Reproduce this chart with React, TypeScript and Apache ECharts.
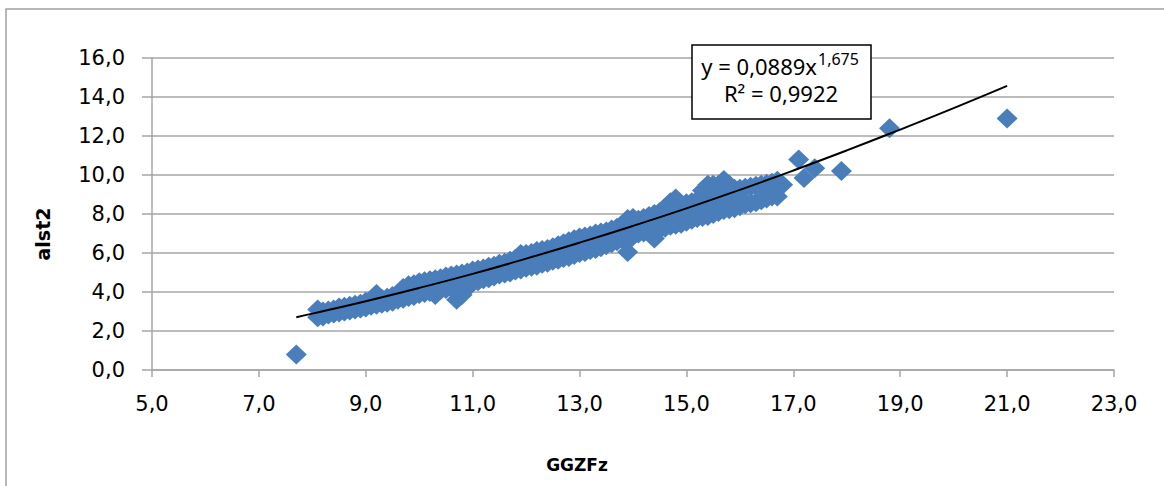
import React, { useEffect, useRef } from "react";
import * as echarts from "echarts";

const bandX = [
  8.2, 8.3, 8.4, 8.5, 8.6, 8.7, 8.8, 8.9, 9.0, 9.1,
  9.2, 9.3, 9.4, 9.5, 9.6, 9.7, 9.8, 9.9, 10.0, 10.1,
  10.2, 10.3, 10.4, 10.5, 10.6, 10.7, 10.8, 10.9, 11.0, 11.1,
  11.2, 11.3, 11.4, 11.5, 11.6, 11.7, 11.8, 11.9, 12.0, 12.1,
  12.2, 12.3, 12.4, 12.5, 12.6, 12.7, 12.8, 12.9, 13.0, 13.1,
  13.2, 13.3, 13.4, 13.5, 13.6, 13.7, 13.8, 13.9, 14.0, 14.1,
  14.2, 14.3, 14.4, 14.5, 14.6, 14.7, 14.8, 14.9, 15.0, 15.1,
  15.2, 15.3, 15.4, 15.5, 15.6, 15.7, 15.8, 15.9, 16.0, 16.1,
  16.2, 16.3, 16.4, 16.5, 16.6, 16.7,
];
const bandLow = [
  2.75, 2.85, 2.9, 2.95, 3.0, 3.05, 3.1, 3.15, 3.2, 3.3,
  3.35, 3.4, 3.45, 3.5, 3.6, 3.65, 3.75, 3.8, 3.9, 3.95,
  4.0, 3.85, 4.1, 4.15, 4.2, 3.6, 3.85, 4.2, 4.5, 4.55,
  4.65, 4.7, 4.8, 4.9, 4.95, 5.0, 5.1, 5.15, 5.25, 5.3,
  5.35, 5.45, 5.5, 5.6, 5.65, 5.75, 5.8, 5.9, 6.0, 6.05,
  6.15, 6.2, 6.3, 6.4, 6.5, 6.6, 6.7, 6.05, 6.9, 7.0,
  7.05, 7.1, 6.75, 7.2, 7.3, 7.4, 7.45, 7.5, 7.6, 7.7,
  7.8, 7.85, 7.9, 8.0, 8.1, 8.2, 8.25, 8.3, 8.4, 8.5,
  8.55, 8.6, 8.7, 8.8, 8.9, 8.9,
];
const bandHigh = [
  3.0, 3.05, 3.1, 3.2, 3.25, 3.3, 3.35, 3.4, 3.5, 3.55,
  3.9, 3.65, 3.7, 3.8, 3.9, 4.2, 4.35, 4.4, 4.5, 4.55,
  4.6, 4.65, 4.7, 4.8, 4.85, 4.9, 4.95, 5.0, 5.1, 5.15,
  5.2, 5.3, 5.35, 5.45, 5.5, 5.6, 5.7, 5.95, 5.95, 6.0,
  6.1, 6.15, 6.2, 6.3, 6.4, 6.5, 6.6, 6.7, 6.8, 6.85,
  6.9, 7.0, 7.05, 7.1, 7.2, 7.3, 7.45, 7.75, 7.8, 7.7,
  7.8, 7.9, 8.0, 8.1, 8.3, 8.6, 8.8, 8.5, 8.55, 8.6,
  8.7, 9.2, 9.5, 9.5, 9.5, 9.75, 9.5, 9.3, 9.3, 9.35,
  9.4, 9.45, 9.5, 9.55, 9.6, 9.7,
];

// Further observations and outliers
const extraX = [
  7.7, 8.1, 8.1, 10.7, 10.8, 13.9, 13.9, 14.0, 14.4, 14.6,
  14.7, 14.8, 14.9, 15.0, 15.2, 15.3, 15.4, 15.5, 15.6, 15.7,
  15.8, 15.9, 16.0, 16.8, 17.1, 17.2, 17.4, 17.9, 18.8, 21.0,
];
const extraY = [
  0.8, 3.1, 2.7, 4.3, 4.4, 6.6, 7.2, 7.35, 7.4, 7.8,
  8.0, 8.1, 8.0, 8.1, 8.25, 8.5, 8.7, 8.75, 8.8, 9.0,
  8.9, 8.8, 8.85, 9.5, 10.8, 9.85, 10.35, 10.2, 12.4, 12.9,
];

// Power trendline y = 0,0889x^1,675
const trendX = [7.7, 8, 9, 10, 11, 12, 13, 14, 15, 16, 17, 18, 19, 20, 21];
const trendY = [2.71, 2.89, 3.53, 4.21, 4.93, 5.71, 6.53, 7.39, 8.29, 9.24, 10.23, 11.26, 12.33, 13.43, 14.57];

const eqMain = "y = 0,0889x";
const eqSup = "1,675";
const eqR2 = "R\u00b2 = 0,9922";
const xName = "GGZFz";
const yName = "alst2";

const fmt = (v: number) => v.toFixed(1).replace(".", ",");

export default function App() {
  const ref = useRef<HTMLDivElement>(null);
  useEffect(() => {
    if (!ref.current) return;
    const chart = echarts.init(ref.current, undefined, { renderer: "svg" });
    const scatterData: number[][] = [];
    bandX.forEach((x, i) => {
      scatterData.push([x, bandLow[i]]);
      scatterData.push([x, bandHigh[i]]);
    });
    extraX.forEach((x, i) => scatterData.push([x, extraY[i]]));
    const trendData = trendX.map((x, i) => [x, trendY[i]]);
    const gridColor = "#a6a6a6";
    const font = "DejaVu Sans";
    chart.setOption({
      animation: false,
      backgroundColor: "#ffffff",
      grid: { left: 152, right: 50, top: 58, bottom: 116 },
      xAxis: {
        type: "value",
        min: 5,
        max: 23,
        interval: 2,
        axisLine: { show: true, onZero: false, lineStyle: { color: gridColor, width: 1.5 } },
        axisTick: { show: true, length: 7, lineStyle: { color: gridColor, width: 1.5 } },
        splitLine: { show: false },
        axisLabel: { formatter: fmt, color: "#000", fontSize: 21, fontFamily: font, margin: 23 },
      },
      yAxis: {
        type: "value",
        min: 0,
        max: 16,
        interval: 2,
        axisLine: { show: true, onZero: false, lineStyle: { color: gridColor, width: 1.5 } },
        axisTick: { show: true, length: 10, lineStyle: { color: gridColor, width: 1.5 } },
        splitLine: { show: true, lineStyle: { color: gridColor, width: 1.5 } },
        axisLabel: { formatter: fmt, color: "#000", fontSize: 21, fontFamily: font, margin: 27 },
      },
      series: [
        {
          type: "scatter",
          data: scatterData,
          symbol: "diamond",
          symbolSize: [21, 20],
          itemStyle: { color: "#4a7ebb", opacity: 1 },
          z: 2,
        },
        {
          type: "line",
          data: trendData,
          smooth: true,
          showSymbol: false,
          lineStyle: { color: "#000", width: 2 },
          z: 3,
        },
      ],
      graphic: [
        {
          type: "rect",
          silent: true,
          shape: { x: 6, y: 9, width: 1180, height: 500 },
          style: { fill: "none", stroke: "#a0a0a0", lineWidth: 1.5 },
        },
        {
          type: "text",
          x: 43,
          y: 234,
          rotation: Math.PI / 2,
          style: {
            text: yName,
            font: `bold 19px "${font}"`,
            fill: "#000",
            align: "center",
            verticalAlign: "middle",
          },
        },
        {
          type: "text",
          x: 577,
          y: 465,
          style: {
            text: xName,
            font: `bold 17px "${font}"`,
            fill: "#000",
            align: "center",
            verticalAlign: "middle",
          },
        },
        {
          type: "rect",
          z: 10,
          shape: { x: 692, y: 45, width: 179, height: 74 },
          style: { fill: "#fff", stroke: "#000", lineWidth: 1.5 },
        },
        {
          type: "text",
          z: 11,
          x: 817,
          y: 66,
          style: {
            text: eqMain,
            font: '22px "Noto Sans"',
            fill: "#000",
            align: "right",
            verticalAlign: "middle",
          },
        },
        {
          type: "text",
          z: 11,
          x: 818,
          y: 59,
          style: {
            text: eqSup,
            font: '16px "Noto Sans"',
            fill: "#000",
            align: "left",
            verticalAlign: "middle",
          },
        },
        {
          type: "text",
          z: 11,
          x: 781,
          y: 93,
          style: {
            text: eqR2,
            font: '22px "Noto Sans"',
            fill: "#000",
            align: "center",
            verticalAlign: "middle",
          },
        },
      ],
    });
    return () => chart.dispose();
  }, []);
  return (
    <div
      ref={ref}
      style={{ position: "fixed", left: 0, top: 0, width: 1164, height: 486, background: "#fff" }}
    />
  );
}
